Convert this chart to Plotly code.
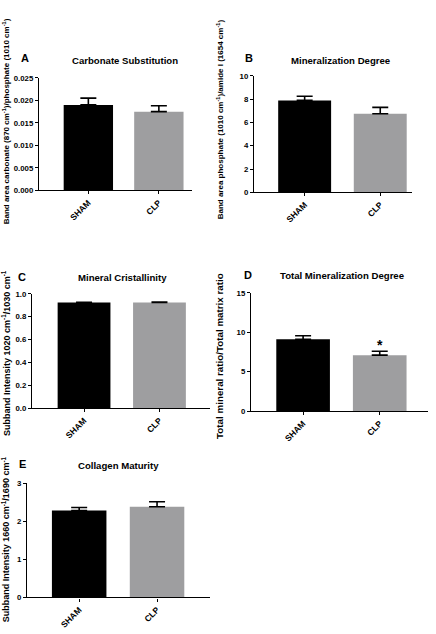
import plotly.graph_objects as go

groups = ["SHAM", "CLP"]
bar_colors = ["#000000", "#9e9ea0"]

carbonate_mean = [0.0190, 0.0175]
carbonate_err = [0.0015, 0.0013]
mineralization_mean = [7.9, 6.75]
mineralization_err = [0.35, 0.55]
cristallinity_mean = [0.925, 0.925]
cristallinity_err = [0.002, 0.004]
total_min_mean = [9.1, 7.1]
total_min_err = [0.45, 0.5]
collagen_mean = [2.28, 2.38]
collagen_err = [0.08, 0.13]

W, H = 436, 634
FONT = "Arial, Liberation Sans, sans-serif"

def px_x(p):
    return p / W

def px_y(p):
    return 1 - p / H

panels = [
    dict(letter="A", title="Carbonate Substitution", mean=carbonate_mean, err=carbonate_err,
         xdom=(39, 192), ydom=(189, 75), yrange=[0, 0.025], dtick=0.005, fmt=".3f", xr=[-0.70, 1.47],
         ytitle="Band area carbonate (870 cm<sup>-1</sup>)/phosphate (1010 cm<sup>-1</sup>)",
         ytsize=8, ytx=6, yty=119, letter_xy=(25, 55), title_xy=(125, 57)),
    dict(letter="B", title="Mineralization Degree", mean=mineralization_mean, err=mineralization_err,
         xdom=(254, 412), ydom=(191, 73), yrange=[0, 10], dtick=2, fmt="", xr=[-0.67, 1.42],
         ytitle="Band area phosphate (1010 cm<sup>-1</sup>)/amide I (1654 cm<sup>-1</sup>)",
         ytsize=8, ytx=220, yty=117, letter_xy=(249, 55), title_xy=(340, 57)),
    dict(letter="C", title="Mineral Cristallinity", mean=cristallinity_mean, err=cristallinity_err,
         xdom=(32, 210), ydom=(410, 294), yrange=[0, 1.0], dtick=0.2, fmt=".1f", xr=[-0.69, 1.67],
         ytitle="Subband Intensity 1020 cm<sup>-1</sup>/1030 cm<sup>-1</sup>",
         ytsize=9.0, ytx=6, yty=354, letter_xy=(22, 277), title_xy=(122, 277)),
    dict(letter="D", title="Total Mineralization Degree", mean=total_min_mean, err=total_min_err,
         xdom=(251, 428), ydom=(413, 293), yrange=[0, 15], dtick=5, fmt="", xr=[-0.68, 1.63],
         ytitle="Total mineral ratio/Total matrix ratio",
         ytsize=9.8, ytx=220, yty=357, letter_xy=(248, 275), title_xy=(342, 275)),
    dict(letter="E", title="Collagen Maturity", mean=collagen_mean, err=collagen_err,
         xdom=(27, 210), ydom=(602, 486), yrange=[0, 3], dtick=1, fmt="", xr=[-0.67, 1.68],
         ytitle="Subband Intensity 1660 cm<sup>-1</sup>/1690 cm<sup>-1</sup>",
         ytsize=9.0, ytx=6, yty=543, letter_xy=(22, 467), title_xy=(118, 468)),
]

fig = go.Figure()
annotations = []
layout = {}

for i, p in enumerate(panels):
    n = "" if i == 0 else str(i + 1)
    xa, ya = "x" + n, "y" + n
    fig.add_trace(go.Bar(
        x=groups, y=p["mean"], xaxis=xa, yaxis=ya,
        marker=dict(color=bar_colors, line=dict(width=0)),
        width=0.70,
        error_y=dict(type="data", array=p["err"], arrayminus=[0, 0], symmetric=False,
                     color="#000000", thickness=1.6, width=8),
        showlegend=False,
    ))
    layout["xaxis" + n] = dict(
        domain=[px_x(p["xdom"][0]), px_x(p["xdom"][1])], anchor=ya,
        type="category", range=p["xr"], showline=True, linecolor="#000", linewidth=1.3,
        ticks="outside", ticklen=3, tickcolor="#000", tickangle=-45,
        tickfont=dict(family=FONT, size=8.5, color="#000", weight="bold"),
        showgrid=False, zeroline=False, fixedrange=True,
    )
    layout["yaxis" + n] = dict(
        domain=[px_y(p["ydom"][0]), px_y(p["ydom"][1])], anchor=xa,
        range=p["yrange"], dtick=p["dtick"], tick0=0, tickformat=p["fmt"],
        showline=True, linecolor="#000", linewidth=1.3,
        ticks="outside", ticklen=3, tickcolor="#000",
        tickfont=dict(family=FONT, size=7.8, color="#000", weight="bold"),
        showgrid=False, zeroline=False, fixedrange=True,
    )
    annotations.append(dict(
        text=p["ytitle"], textangle=-90, x=px_x(p["ytx"]), y=px_y(p["yty"]),
        xref="paper", yref="paper", showarrow=False, xanchor="center", yanchor="middle",
        font=dict(family=FONT, size=p["ytsize"], color="#000", weight="bold"),
    ))
    annotations.append(dict(
        text=p["letter"], x=px_x(p["letter_xy"][0]), y=px_y(p["letter_xy"][1]),
        xref="paper", yref="paper", showarrow=False, xanchor="center", yanchor="middle",
        font=dict(family=FONT, size=11, color="#000", weight="bold"),
    ))
    annotations.append(dict(
        text=p["title"], x=px_x(p["title_xy"][0]), y=px_y(p["title_xy"][1]),
        xref="paper", yref="paper", showarrow=False, xanchor="center", yanchor="middle",
        font=dict(family=FONT, size=9.6, color="#000", weight="bold"),
    ))

# significance marker on CLP in panel D
annotations.append(dict(
    text="*", x="CLP", y=total_min_mean[1] + total_min_err[1], xref="x4", yref="y4",
    showarrow=False, yanchor="bottom", yshift=-4,
    font=dict(family=FONT, size=14, color="#000", weight="bold"),
))

fig.update_layout(
    width=W, height=634, margin=dict(l=0, r=0, t=0, b=0),
    paper_bgcolor="white", plot_bgcolor="white",
    annotations=annotations, bargap=0.3, **layout,
)

fig.write_html("out.html")
